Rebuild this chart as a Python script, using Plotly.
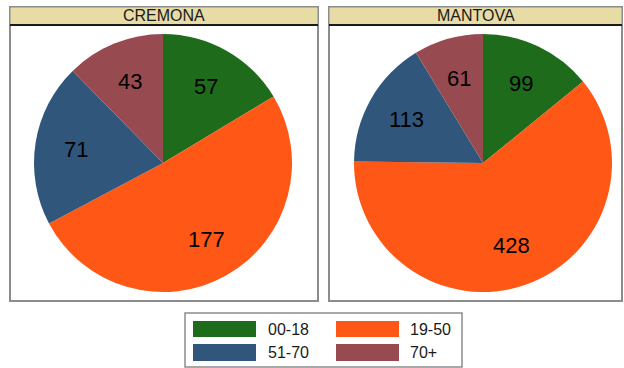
import math
import plotly.graph_objects as go

# Age groups and counts per province
age_groups = ["00-18", "19-50", "51-70", "70+"]
cremona_counts = [57, 177, 71, 43]
mantova_counts = [99, 428, 113, 61]
provinces = ["CREMONA", "MANTOVA"]
slice_colors = ["#1E6B1C", "#FE5716", "#30567C", "#984A51"]

W, H = 624, 368
FONT = "Liberation Sans, Arial"


def px_x(v):
    return v / W


def px_y(v):
    return 1 - v / H


fig = go.Figure()

# Pie placement in pixels: (left, right, top, bottom)
pie_boxes = [(34, 292, 34, 292), (354, 612, 34, 292)]

annotations = []
for name, counts, (l, r, t, b) in zip(provinces, [cremona_counts, mantova_counts], pie_boxes):
    fig.add_trace(go.Pie(
        labels=age_groups,
        values=counts,
        name=name,
        domain=dict(x=[px_x(l), px_x(r)], y=[px_y(b), px_y(t)]),
        sort=False,
        direction="clockwise",
        rotation=0,
        marker=dict(colors=slice_colors, line=dict(width=0)),
        textinfo="none",
        showlegend=False,
        hoverinfo="label+value",
    ))
    # Value labels at each slice's mid-angle, about two thirds of the radius out
    cx, cy = (l + r) / 2, (t + b) / 2
    radius = (r - l) / 2
    total = sum(counts)
    start = 0.0
    for v in counts:
        mid = (start + v / 2) / total * 2 * math.pi
        start += v
        lx = cx + 0.68 * radius * math.sin(mid)
        ly = cy - 0.68 * radius * math.cos(mid)
        annotations.append(dict(text=str(v), xref="paper", yref="paper",
                                x=px_x(lx), y=px_y(ly), showarrow=False,
                                xanchor="center", yanchor="middle",
                                font=dict(family=FONT, size=22, color="black")))

shapes = []

# Panel frames with title strips
panels = [(10, 318), (329, 622)]
for (x0, x1), title in zip(panels, provinces):
    shapes.append(dict(type="rect", xref="paper", yref="paper",
                       x0=px_x(x0), x1=px_x(x1), y0=px_y(301), y1=px_y(7),
                       line=dict(color="#8C8C8C", width=2), fillcolor="rgba(0,0,0,0)",
                       layer="below"))
    shapes.append(dict(type="rect", xref="paper", yref="paper",
                       x0=px_x(x0), x1=px_x(x1), y0=px_y(25), y1=px_y(7),
                       line=dict(color="#8C8C8C", width=1), fillcolor="#E8DCA6",
                       layer="below"))
    shapes.append(dict(type="line", xref="paper", yref="paper",
                       x0=px_x(x0), x1=px_x(x1), y0=px_y(25), y1=px_y(25),
                       line=dict(color="#1A1A1A", width=2)))
    annotations.append(dict(text=title, xref="paper", yref="paper",
                            x=px_x((x0 + x1) / 2), y=px_y(16), showarrow=False,
                            xanchor="center", yanchor="middle",
                            font=dict(family=FONT, size=16, color="#1A1A1A")))

# Legend box
shapes.append(dict(type="rect", xref="paper", yref="paper",
                   x0=px_x(185), x1=px_x(462), y0=px_y(367), y1=px_y(313),
                   line=dict(color="#8C8C8C", width=1.5), fillcolor="white"))

legend_cols = [(193, 256, 266), (336, 399, 408)]
legend_rows = [(321, 337), (344, 361)]
for i, (label, color) in enumerate(zip(age_groups, slice_colors)):
    sx0, sx1, tx = legend_cols[i % 2]
    sy0, sy1 = legend_rows[i // 2]
    shapes.append(dict(type="rect", xref="paper", yref="paper",
                       x0=px_x(sx0), x1=px_x(sx1), y0=px_y(sy1), y1=px_y(sy0),
                       line=dict(width=0), fillcolor=color))
    annotations.append(dict(text=label, xref="paper", yref="paper",
                            x=px_x(tx), y=px_y((sy0 + sy1) / 2), showarrow=False,
                            xanchor="left", yanchor="middle",
                            font=dict(family=FONT, size=16, color="#1A1A1A")))

fig.update_layout(
    width=W, height=H,
    margin=dict(l=0, r=0, t=0, b=0),
    paper_bgcolor="white",
    plot_bgcolor="white",
    shapes=shapes,
    annotations=annotations,
    showlegend=False,
)

fig.write_html("out.html")
